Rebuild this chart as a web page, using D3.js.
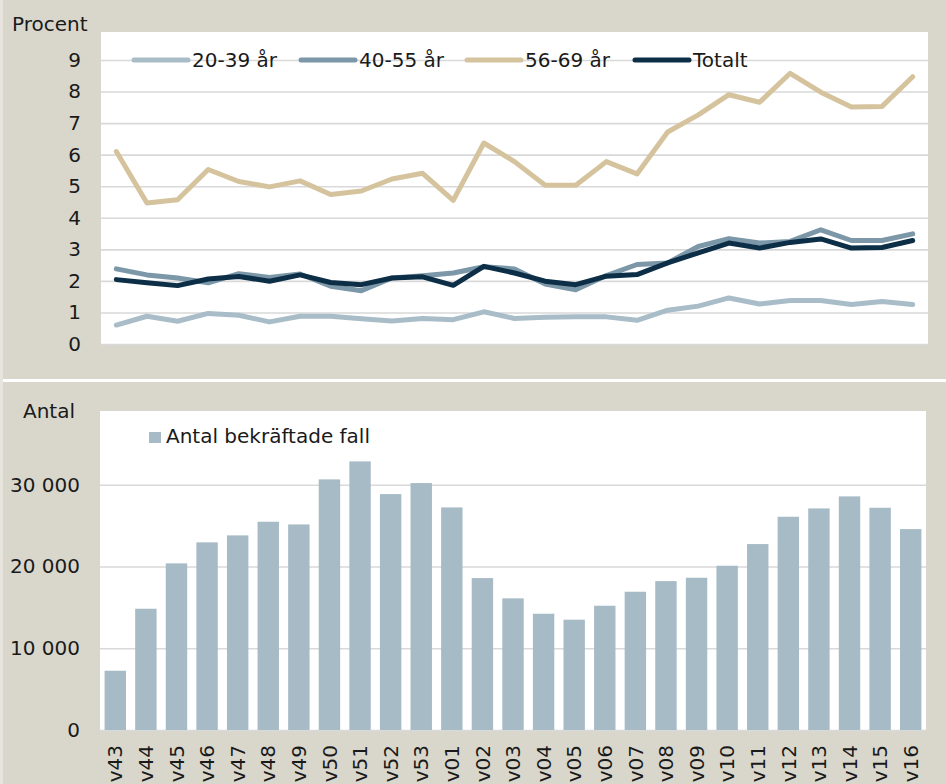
<!DOCTYPE html>
<html>
<head>
<meta charset="utf-8">
<script src="https://cdn.jsdelivr.net/npm/d3@7"></script>
<style>
  body { margin: 0; background: #fff; }
  svg { display: block; font-family: "DejaVu Sans", sans-serif; }
</style>
</head>
<body>
<div id="chart"></div>
<script>
// weeks shown on both panels
const weeks = ["v43", "v44", "v45", "v46", "v47", "v48", "v49", "v50", "v51", "v52", "v53",
  "v01", "v02", "v03", "v04", "v05", "v06", "v07", "v08", "v09", "v10", "v11", "v12", "v13", "v14", "v15", "v16"];

// percent series (top panel)
const age20to39 = [0.60, 0.88, 0.72, 0.97, 0.91, 0.70, 0.88, 0.88, 0.80, 0.73, 0.81, 0.77, 1.02,
  0.81, 0.85, 0.86, 0.86, 0.75, 1.07, 1.20, 1.46, 1.27, 1.38, 1.38, 1.25, 1.35, 1.25];
const age40to55 = [2.38, 2.19, 2.09, 1.94, 2.23, 2.11, 2.22, 1.83, 1.69, 2.09, 2.16, 2.25, 2.45,
  2.38, 1.90, 1.72, 2.17, 2.52, 2.57, 3.09, 3.34, 3.20, 3.25, 3.62, 3.28, 3.28, 3.49];
const age56to69 = [6.10, 4.47, 4.57, 5.53, 5.15, 4.98, 5.17, 4.74, 4.85, 5.23, 5.41, 4.55, 6.37,
  5.78, 5.03, 5.03, 5.78, 5.39, 6.72, 7.26, 7.90, 7.66, 8.58, 7.98, 7.51, 7.53, 8.47];
const totalt = [2.04, 1.94, 1.85, 2.06, 2.14, 1.99, 2.19, 1.95, 1.88, 2.09, 2.13, 1.86, 2.46,
  2.25, 1.99, 1.88, 2.15, 2.20, 2.57, 2.89, 3.20, 3.04, 3.22, 3.33, 3.04, 3.06, 3.28];

// confirmed cases (bottom panel)
const cases = [7250, 14830, 20380, 22950, 23800, 25470, 25140, 30650, 32850, 28850, 30200, 27220,
  18580, 16100, 14220, 13490, 15200, 16910, 18210, 18620, 20090, 22740, 26080, 27100, 28570, 27180, 24570];

const percentTicks = [0, 1, 2, 3, 4, 5, 6, 7, 8, 9];
const countTicks = [0, 10000, 20000, 30000];

const seriesNames = ["20-39 år", "40-55 år", "56-69 år", "Totalt"];
const seriesValues = [age20to39, age40to55, age56to69, totalt];
const seriesColors = ["#a8bdc8", "#7b97a8", "#d4c39d", "#0c2e47"];

const width = 946, height = 784;
const beige = "#d9d7cc";
const gridColor = "#d9d9d9";

const svg = d3.select("#chart").append("svg")
  .attr("width", width)
  .attr("height", height);

// panel backgrounds
svg.append("rect").attr("width", width).attr("height", height).attr("fill", "#fff");
svg.append("rect").attr("x", 0).attr("y", 0).attr("width", width).attr("height", 379).attr("fill", beige);
svg.append("rect").attr("x", 0).attr("y", 382).attr("width", width).attr("height", 402).attr("fill", beige);
svg.append("rect").attr("x", 0).attr("y", 0).attr("width", 3).attr("height", height).attr("fill", "#e6e4dc");

// ---------- top panel: percent lines ----------
const topBox = { left: 101, right: 928, top: 32, bottom: 344 };

svg.append("rect")
  .attr("x", topBox.left).attr("y", topBox.top)
  .attr("width", topBox.right - topBox.left).attr("height", topBox.bottom - topBox.top)
  .attr("fill", "#fff");

const xTop = d3.scalePoint().domain(weeks).range([topBox.left, topBox.right]).padding(0.5);
const yTop = d3.scaleLinear().domain([0, 9]).range([344, 60]);

const yAxisTop = svg.append("g")
  .attr("transform", `translate(${topBox.left},0)`)
  .call(d3.axisLeft(yTop).tickValues(percentTicks).tickSize(-(topBox.right - topBox.left)).tickPadding(20));
yAxisTop.select(".domain").remove();
yAxisTop.selectAll("line").attr("stroke", gridColor).attr("stroke-width", 1.6);
yAxisTop.selectAll("text").attr("font-size", "20px").attr("fill", "#1a1a1a")
  .attr("font-family", "DejaVu Sans");

svg.append("text")
  .attr("x", 12).attr("y", 31)
  .attr("font-size", "20px").attr("fill", "#1a1a1a")
  .text("Procent");

const line = d3.line()
  .x((d, i) => xTop(weeks[i]))
  .y(d => yTop(d));

svg.append("g").selectAll("path")
  .data(seriesValues)
  .join("path")
  .attr("d", d => line(d))
  .attr("fill", "none")
  .attr("stroke", (d, i) => seriesColors[i])
  .attr("stroke-width", 5)
  .attr("stroke-linejoin", "round")
  .attr("stroke-linecap", "round");

// legend for lines
const legendX = [134, 301, 467, 635];
const legend = svg.append("g").selectAll("g")
  .data(seriesNames)
  .join("g")
  .attr("transform", (d, i) => `translate(${legendX[i]},60)`);
legend.append("line")
  .attr("x1", 0).attr("x2", 54)
  .attr("stroke", (d, i) => seriesColors[i])
  .attr("stroke-width", 5)
  .attr("stroke-linecap", "round");
legend.append("text")
  .attr("x", 58).attr("dy", "0.36em")
  .attr("font-size", "20px").attr("fill", "#1a1a1a")
  .text(d => d);

// ---------- bottom panel: bars ----------
const botBox = { left: 100, right: 926, top: 411, bottom: 730 };

svg.append("rect")
  .attr("x", botBox.left).attr("y", botBox.top)
  .attr("width", botBox.right - botBox.left).attr("height", botBox.bottom - botBox.top)
  .attr("fill", "#fff");

const xBot = d3.scaleBand().domain(weeks).range([botBox.left, botBox.right])
  .paddingInner(0.3).paddingOuter(0.15);
const yBot = d3.scaleLinear().domain([0, 30000]).range([730, 484.7]);

const fmt = v => d3.format(",")(v).replace(/,/g, "\u00a0");

const yAxisBot = svg.append("g")
  .attr("transform", `translate(${botBox.left},0)`)
  .call(d3.axisLeft(yBot).tickValues(countTicks).tickFormat(fmt)
    .tickSize(-(botBox.right - botBox.left)).tickPadding(20));
yAxisBot.select(".domain").remove();
yAxisBot.selectAll("line").attr("stroke", gridColor).attr("stroke-width", 1.6);
yAxisBot.selectAll("text").attr("font-size", "20px").attr("fill", "#1a1a1a")
  .attr("font-family", "DejaVu Sans");

svg.append("text")
  .attr("x", 23).attr("y", 418)
  .attr("font-size", "20px").attr("fill", "#1a1a1a")
  .text("Antal");

svg.append("g").selectAll("rect")
  .data(cases)
  .join("rect")
  .attr("x", (d, i) => xBot(weeks[i]))
  .attr("y", d => yBot(d))
  .attr("width", xBot.bandwidth())
  .attr("height", d => yBot(0) - yBot(d))
  .attr("fill", "#a7bbc6");

// x labels, rotated
svg.append("g").selectAll("text")
  .data(weeks)
  .join("text")
  .attr("transform", d => `translate(${xBot(d) + xBot.bandwidth() / 2},745) rotate(-90)`)
  .attr("text-anchor", "end")
  .attr("dy", "0.36em")
  .attr("font-size", "20px").attr("fill", "#1a1a1a")
  .text(d => d);

// legend for bars
svg.append("rect")
  .attr("x", 149).attr("y", 432)
  .attr("width", 12).attr("height", 11)
  .attr("fill", "#a7bbc6");
svg.append("text")
  .attr("x", 166).attr("y", 443)
  .attr("font-size", "20px").attr("fill", "#1a1a1a")
  .text("Antal bekräftade fall");
</script>
</body>
</html>
